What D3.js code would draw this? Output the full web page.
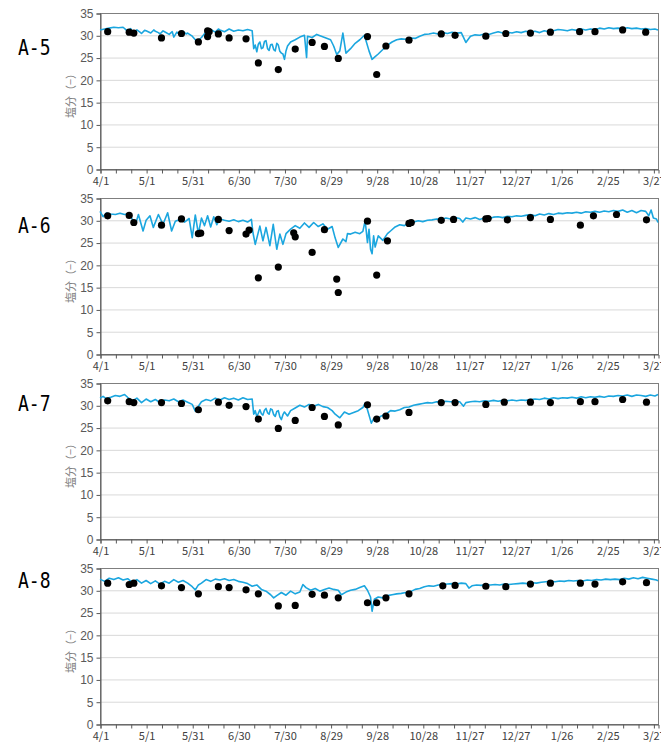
<!DOCTYPE html>
<html>
<head>
<meta charset="utf-8">
<script src="https://cdn.jsdelivr.net/npm/d3@7"></script>
<style>
  html, body { margin: 0; padding: 0; background: #fff; }
  svg { display: block; }
</style>
</head>
<body>
<svg id="chart" width="661" height="746"></svg>
<script>
// ---------------- DATA ----------------
const stations = ["A-5", "A-6", "A-7", "A-8"];
const xTickDays = [0, 30, 60, 90, 120, 150, 180, 210, 240, 270, 300, 330, 360];
const xTickLabels = ["4/1", "5/1", "5/31", "6/30", "7/30", "8/29", "9/28", "10/28", "11/27", "12/27", "1/26", "2/25", "3/27"];
const yTicks = [0, 5, 10, 15, 20, 25, 30, 35];
const yTitle = "塩分（−）";

// continuous record: [day since 4/1, salinity]
const lineA5 = [[0,31.2],[3,31.4],[6,31.6],[9,31.8],[12,31.7],[15,31.8],[17,31.2],[18,31.0],[20,31.5],[21,30.6],[23,30.9],[24,31.2],[26,30.7],[27,30.4],[29,31.1],[30,31.0],[33,30.5],[35,31.2],[36,30.9],[38,30.6],[39,30.3],[41,31.0],[42,30.8],[45,30.2],[47,30.8],[48,29.6],[50,30.7],[51,30.4],[54,30.9],[56,30.3],[57,30.5],[60,29.8],[63,28.6],[66,29.5],[69,30.8],[72,31.3],[75,30.7],[77,31.4],[78,31.2],[81,30.8],[84,31.4],[87,30.9],[90,31.2],[93,31.0],[96,31.3],[99,31.0],[100,27.0],[101,27.8],[102,26.3],[103,28.0],[104,28.5],[105,27.0],[106,27.2],[107,28.6],[108,28.8],[109,27.0],[110,26.6],[111,27.9],[112,28.0],[113,26.8],[114,26.5],[115,28.2],[116,27.8],[117,26.4],[118,26.0],[119,25.8],[120,24.6],[121,26.5],[122,27.6],[124,28.5],[127,29.0],[130,29.6],[133,30.0],[134.4,25.0],[135,29.8],[138,29.5],[141,30.2],[144,29.8],[147,29.4],[150,29.0],[152,27.6],[154,25.7],[156,26.5],[158,30.5],[160,26.0],[163,27.0],[166,28.2],[169,29.0],[172,30.0],[175,26.5],[177,24.6],[179,25.2],[181,25.8],[184,26.8],[187,27.8],[190,28.5],[193,29.0],[196,29.2],[199,29.1],[202,29.4],[205,29.3],[208,29.8],[211,30.2],[214,30.3],[217,30.5],[220,30.3],[223,30.6],[226,30.4],[229,30.7],[232,30.5],[235,30.6],[238,28.4],[241,29.8],[244,30.1],[247,30.0],[250,30.3],[253,30.2],[256,30.5],[259,30.8],[262,30.5],[265,30.7],[268,30.5],[271,30.8],[274,30.6],[277,30.9],[280,30.7],[283,30.9],[286,30.6],[289,31.0],[292,30.8],[295,31.0],[298,31.3],[301,31.2],[304,31.0],[307,31.3],[310,31.1],[313,31.4],[316,31.2],[319,31.4],[322,31.3],[325,31.6],[328,31.4],[331,31.7],[334,31.5],[337,31.6],[340,31.4],[343,31.7],[346,31.5],[349,31.6],[352,31.4],[355,31.5],[358,31.3],[361,31.4],[363,31.2]];
const lineA6 = [[0,32.0],[2,30.8],[4,31.6],[7,31.4],[10,31.3],[13,31.6],[16,31.3],[19,31.5],[21,30.2],[23,29.0],[25,31.3],[28,27.6],[30,30.0],[32.5,31.0],[34.7,28.4],[38,31.3],[41,29.1],[44,31.7],[46.6,27.6],[49,29.8],[52,30.2],[55,29.6],[58,30.4],[60,26.1],[62,31.2],[64,27.0],[66,30.5],[68,28.8],[70,31.0],[72,28.5],[74,30.8],[76,29.0],[78,30.3],[81,30.0],[84,29.8],[87,30.1],[90,29.7],[93,30.0],[96,29.6],[98.5,30.2],[99.5,27.2],[101,24.6],[104,28.7],[106,25.4],[108,28.4],[110.5,24.3],[112.7,29.1],[115,23.5],[117,26.9],[119,24.6],[121,27.0],[124,28.0],[127,28.8],[130,28.2],[133,29.4],[136,28.4],[139,29.5],[142,28.6],[145,29.2],[148,28.0],[151,28.6],[153,26.0],[155,23.9],[158,25.8],[160,25.2],[161,27.0],[163,26.9],[166,27.3],[169,27.0],[171,27.5],[172.5,29.9],[174,25.0],[175,28.0],[176,23.5],[177,22.5],[178,26.5],[179,24.0],[181,26.5],[184,25.5],[187,27.0],[189,27.6],[192,28.5],[195,29.0],[198,28.8],[201,29.5],[204,29.6],[207,29.9],[210,29.7],[213,30.0],[216,30.1],[219,30.3],[222,30.2],[225,30.5],[228,30.3],[231,30.6],[234,30.4],[236,29.6],[238,30.5],[241,30.3],[244,30.6],[247,30.2],[250,30.5],[253,30.4],[256,30.7],[259,30.8],[262,30.6],[265,30.9],[268,30.8],[271,31.0],[274,30.9],[277,31.1],[280,31.3],[283,31.0],[286,31.4],[289,31.2],[292,31.5],[295,31.3],[298,31.6],[301,31.5],[304,31.7],[307,31.6],[310,31.8],[313,31.6],[316,31.9],[319,31.8],[322,32.0],[325,31.8],[328,32.1],[331,31.9],[334,32.2],[337,32.0],[340,32.3],[343,31.8],[346,32.2],[349,31.7],[352,32.2],[355,32.0],[357,31.0],[358.5,32.3],[360,30.5],[362,30.3],[363,29.5]];
const lineA7 = [[0,31.6],[2,32.0],[4,31.5],[7,31.8],[10,32.2],[13,32.0],[16,32.4],[18,31.8],[21,31.0],[24,31.6],[27,30.6],[30,31.4],[33,30.8],[36,31.3],[39,30.6],[42,31.2],[45,31.0],[48,31.4],[51,30.8],[54,31.2],[57,30.7],[60,30.2],[62,28.7],[64,29.8],[66,30.8],[69,31.3],[72,31.0],[75,31.6],[78,31.2],[81,31.7],[84,31.3],[87,31.6],[90,31.2],[93,31.7],[96,31.3],[99,31.4],[100,28.0],[101,28.8],[102,27.5],[103,28.2],[104,29.0],[105,28.1],[106,27.8],[107,28.9],[108,29.3],[109,28.3],[110,28.0],[111,29.2],[112,29.0],[113,27.9],[114,27.5],[115,28.6],[116,28.8],[117,27.4],[118,26.8],[119,27.9],[120,28.5],[122,27.6],[124,28.8],[127,29.4],[130,30.0],[133,29.6],[136,30.2],[139,29.8],[142,30.2],[145,29.7],[148,29.5],[151,28.8],[153,28.0],[156,27.2],[159,28.5],[162,28.0],[165,28.4],[168,28.8],[171,29.5],[172.5,30.5],[174,29.0],[176.5,26.0],[178,27.0],[180,26.8],[183,27.6],[186,28.0],[189,28.8],[192,28.7],[195,29.0],[198,29.5],[201,29.6],[204,30.0],[207,30.2],[210,30.4],[213,30.6],[216,30.5],[219,30.8],[222,30.7],[225,30.9],[228,30.8],[231,30.9],[234,30.8],[236.5,29.8],[238,30.6],[241,30.8],[244,30.9],[247,30.8],[250,31.0],[253,30.9],[256,31.1],[259,30.9],[262,31.1],[265,31.0],[268,31.2],[271,31.0],[274,31.2],[277,31.1],[280,31.3],[283,31.4],[286,31.3],[289,31.6],[292,31.4],[295,31.7],[298,31.5],[301,31.7],[304,31.6],[307,31.8],[310,31.6],[313,31.9],[316,31.7],[319,31.9],[322,31.8],[325,32.0],[328,31.8],[331,32.1],[334,32.0],[337,32.2],[340,32.1],[343,32.3],[346,32.0],[349,32.3],[352,32.2],[355,32.0],[358,32.3],[361,32.1],[363,32.4]];
const lineA8 = [[0,32.5],[3,32.0],[6,32.7],[9,32.4],[12,32.8],[15,32.3],[18,32.6],[21,31.8],[24,32.4],[27,31.6],[30,32.2],[33,31.5],[36,32.1],[39,31.4],[42,32.0],[45,31.6],[48,32.4],[51,31.8],[54,32.2],[57,31.6],[60,30.8],[62,30.1],[64,31.2],[66,31.6],[69,32.4],[72,32.0],[75,32.5],[78,32.3],[81,32.6],[84,32.2],[87,32.4],[90,32.0],[93,31.8],[96,31.5],[99,30.9],[102,31.2],[105,30.2],[108,29.8],[111,29.0],[113,28.3],[115,28.8],[118,29.5],[121,28.9],[124,29.8],[127,29.2],[130,29.6],[132,31.3],[134,30.6],[137,30.0],[140,30.4],[143,29.8],[146,30.2],[149,30.5],[152,30.2],[155,30.0],[157,29.0],[160,29.6],[163,30.0],[166,30.2],[169,30.6],[172,31.0],[174,30.0],[176,28.5],[177,25.3],[178.5,28.0],[181,28.5],[184,28.3],[187,28.8],[190,29.0],[193,29.2],[196,29.3],[199,29.5],[202,29.7],[205,30.2],[208,30.4],[211,30.8],[214,31.0],[217,30.9],[220,31.2],[223,31.3],[226,31.4],[229,31.5],[232,31.4],[235,31.6],[238,31.5],[240,30.5],[242,31.0],[245,31.2],[248,31.1],[251,31.3],[254,31.2],[257,31.3],[260,31.2],[263,31.4],[266,31.3],[269,31.4],[272,31.5],[275,31.6],[278,31.5],[281,31.7],[284,31.6],[287,31.8],[290,31.9],[293,32.0],[296,31.9],[299,32.1],[302,32.0],[305,32.2],[308,32.1],[311,32.2],[314,32.1],[317,32.3],[320,32.2],[323,32.4],[326,32.3],[329,32.5],[332,32.4],[335,32.5],[338,32.4],[341,32.7],[344,32.5],[347,32.8],[350,32.6],[353,32.9],[356,32.7],[359,32.5],[362,32.3],[363,32.1]];

// spot measurements: [day since 4/1, salinity]
const dotsA5 = [[5,30.8],[19,30.7],[22,30.5],[40,29.4],[53,30.4],[64,28.5],[70,31.0],[70,29.7],[71,30.8],[77,30.3],[84,29.4],[95,29.2],[103,23.8],[116,22.3],[127,26.9],[138,28.4],[146,27.5],[155,24.8],[174,29.7],[180,21.2],[186,27.6],[201,28.9],[222,30.3],[231,30.0],[251,29.8],[264,30.4],[280,30.5],[293,30.7],[312,30.8],[322,30.8],[340,31.2],[355,30.7]];
const dotsA6 = [[5,31.0],[19,31.1],[22,29.5],[40,28.9],[53,30.3],[64,27.0],[65.5,27.1],[77,30.2],[84,27.7],[95,26.9],[97,27.8],[103,17.1],[116,19.5],[126,27.2],[127,26.3],[138,22.8],[146,27.9],[154,16.8],[155,13.8],[174,29.8],[180,17.7],[187,25.4],[201,29.3],[202.5,29.5],[222,30.0],[230,30.2],[251,30.3],[252.5,30.4],[265,30.1],[280,30.6],[293,30.2],[312.5,28.9],[321,31.0],[336,31.3],[355.5,30.1]];
const dotsA7 = [[5,31.0],[19,30.8],[22,30.6],[40,30.6],[53,30.4],[64,29.0],[77,30.7],[84,30.0],[95,29.7],[103,26.9],[116,24.8],[127,26.6],[138,29.5],[146,27.5],[155,25.6],[174,30.1],[180,26.9],[186,27.6],[201,28.4],[222,30.6],[231,30.6],[251,30.2],[263,30.7],[280,30.7],[293,30.6],[312.5,30.8],[322,30.8],[340,31.3],[355.5,30.7]];
const dotsA8 = [[5,31.6],[19,31.3],[22,31.6],[40,31.0],[53,30.6],[64,29.2],[77,30.8],[84,30.6],[95,30.1],[103,29.2],[116,26.5],[127,26.6],[138,29.1],[146,28.9],[155,28.3],[174,27.2],[180,27.2],[186,28.3],[201,29.2],[223,31.0],[231,31.1],[251,30.9],[264,30.8],[280,31.4],[293,31.6],[312.5,31.6],[322,31.4],[340,31.9],[355.5,31.7]];

const lines = [lineA5, lineA6, lineA7, lineA8];
const dots = [dotsA5, dotsA6, dotsA7, dotsA8];

// ---------------- LAYOUT ----------------
const panelTops = [13, 198, 383, 568];
const labelY = [55, 233, 411, 588];
const plotLeft = 100, plotRight = 658, plotH = 156;
const lineColor = "#1ba6df";

const svg = d3.select("#chart");
const x = d3.scaleLinear().domain([0, 363]).range([plotLeft, plotRight]);
const y = d3.scaleLinear().domain([0, 35]).range([plotH, 0]);
const minorTicks = d3.range(0, 364, 10);

stations.forEach((name, i) => {
  const g = svg.append("g").attr("transform", `translate(0,${panelTops[i]})`);

  // gridlines
  g.append("g").selectAll("line").data(yTicks.filter(t => t > 0 && t < 35)).join("line")
    .attr("x1", plotLeft).attr("x2", plotRight)
    .attr("y1", d => y(d) + 0.5).attr("y2", d => y(d) + 0.5)
    .attr("stroke", "#d9d9d9").attr("stroke-width", 1);

  // frame
  g.append("rect").attr("x", plotLeft + 0.5).attr("y", 0.5)
    .attr("width", plotRight - plotLeft).attr("height", plotH)
    .attr("fill", "none").attr("stroke", "#7f7f7f").attr("stroke-width", 1);

  // y axis
  const ya = d3.axisLeft(y).tickValues(yTicks).tickSize(4).tickPadding(3).tickFormat(d3.format("d"));
  const yg = g.append("g").attr("transform", `translate(${plotLeft + 0.5},0.5)`).call(ya);
  yg.select(".domain").attr("stroke", "#595959");
  yg.selectAll(".tick line").attr("stroke", "#595959");
  yg.selectAll("text").attr("fill", "#595959")
    .style("font-family", "'Liberation Sans Narrow','Liberation Sans',Arial,sans-serif").style("font-size", "12px");

  // x axis (minor ticks every 10 days, labels every 30)
  const xa = d3.axisBottom(x).tickValues(minorTicks).tickSize(4).tickPadding(4)
    .tickFormat(d => { const k = xTickDays.indexOf(d); return k >= 0 ? xTickLabels[k] : ""; });
  const xg = g.append("g").attr("transform", `translate(0.5,${plotH + 0.5})`).call(xa);
  xg.select(".domain").attr("stroke", "#595959");
  xg.selectAll(".tick line").attr("stroke", "#595959");
  xg.selectAll("text").attr("fill", "#404040")
    .style("font-family", "'Noto Sans CJK JP','Liberation Sans',sans-serif").style("font-size", "11px");

  // y title
  g.append("text")
    .attr("transform", `translate(75,${80}) rotate(-90)`)
    .attr("text-anchor", "middle")
    .attr("fill", "#7f7f7f")
    .style("font-family", "'Noto Sans CJK JP',sans-serif").style("font-size", "11px")
    .text(yTitle);

  // station label
  g.append("text")
    .attr("transform", `translate(18,${labelY[i] - panelTops[i]}) scale(0.95,1.15)`)
    .attr("fill", "#000")
    .style("font-family", "'DejaVu Sans Mono',monospace").style("font-size", "19px")
    .text(name);

  // continuous line
  const lineGen = d3.line().x(d => x(d[0])).y(d => y(d[1]));
  g.append("path").datum(lines[i])
    .attr("d", lineGen).attr("fill", "none")
    .attr("stroke", lineColor).attr("stroke-width", 1.6).attr("stroke-linejoin", "round");

  // spot measurements
  g.append("g").selectAll("circle").data(dots[i]).join("circle")
    .attr("cx", d => x(d[0])).attr("cy", d => y(d[1])).attr("r", 3.6)
    .attr("fill", "#000");
});
</script>
</body>
</html>
